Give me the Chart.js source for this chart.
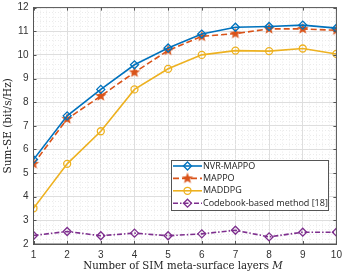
<!DOCTYPE html>
<html>
<head>
<meta charset="utf-8">
<script src="https://cdn.jsdelivr.net/npm/chart.js@4/dist/chart.umd.min.js"></script>
<style>
html, body { margin: 0; padding: 0; background: #fff; }
#wrap { width: 344px; height: 276px; }
</style>
</head>
<body>
<div id="wrap"><canvas id="chart"></canvas></div>
<script>
// data
const layers = [1, 2, 3, 4, 5, 6, 7, 8, 9, 10];
const nvrMappo = [5.57, 7.42, 8.54, 9.58, 10.29, 10.88, 11.17, 11.20, 11.26, 11.13];
const mappo = [5.39, 7.29, 8.26, 9.26, 10.19, 10.78, 10.90, 11.10, 11.10, 11.04];
const maddpg = [3.51, 5.39, 6.77, 8.54, 9.41, 10.00, 10.18, 10.16, 10.27, 10.04];
const codebook = [2.36, 2.53, 2.35, 2.46, 2.35, 2.43, 2.58, 2.30, 2.50, 2.50];
const names = ['NVR-MAPPO', 'MAPPO', 'MADDPG', 'Codebook-based method [18]'];
const xLabel = 'Number of SIM meta-surface layers ';
const yLabel = 'Sum-SE (bit/s/Hz)';

const isMajor = v => Math.abs(v - Math.round(v)) < 1e-6;
const pairs = ys => layers.map((x, i) => ({ x: x, y: ys[i] }));

function starImg(r, color) {
    const s = Math.ceil(r * 2 + 2);
    const c = document.createElement('canvas');
    c.width = s; c.height = s;
    const g = c.getContext('2d');
    g.beginPath();
    for (let i = 0; i < 10; i++) {
        const a = -Math.PI / 2 + i * Math.PI / 5;
        const rr = i % 2 ? r * 0.42 : r;
        g.lineTo(s / 2 + rr * Math.cos(a), s / 2 + rr * Math.sin(a));
    }
    g.closePath();
    g.fillStyle = color;
    g.fill();
    return c;
}

const BLUE = '#0072BD', RED = '#D95319', YELLOW = '#EDB120', PURPLE = '#7E2F8E';
const star = starImg(6, RED);

const datasets = [
    { label: names[0], data: pairs(nvrMappo), borderColor: BLUE, borderWidth: 1.6,
      pointStyle: 'rectRot', pointRadius: 4, pointBorderWidth: 1.3, pointBorderColor: BLUE, pointBackgroundColor: 'rgba(0,0,0,0)' },
    { label: names[1], data: pairs(mappo), borderColor: RED, borderWidth: 1.6, borderDash: [6, 3],
      pointStyle: star, pointRadius: 6, pointBorderColor: RED, pointBackgroundColor: RED },
    { label: names[2], data: pairs(maddpg), borderColor: YELLOW, borderWidth: 1.6,
      pointStyle: 'circle', pointRadius: 3.5, pointBorderWidth: 1.3, pointBorderColor: YELLOW, pointBackgroundColor: 'rgba(0,0,0,0)' },
    { label: names[3], data: pairs(codebook), borderColor: PURPLE, borderWidth: 1.6, borderDash: [5, 2, 1.5, 2],
      pointStyle: 'rectRot', pointRadius: 4, pointBorderWidth: 1.3, pointBorderColor: PURPLE, pointBackgroundColor: 'rgba(0,0,0,0)' }
];

const boxPlugin = {
    id: 'box',
    afterDatasetsDraw(chart) {
        const ctx = chart.ctx, a = chart.chartArea;
        const xs = chart.scales.x, ys = chart.scales.y;
        ctx.save();
        ctx.strokeStyle = '#555';
        ctx.lineWidth = 1;
        ctx.strokeRect(a.left, a.top, a.right - a.left, a.bottom - a.top);
        ctx.beginPath();
        xs.ticks.forEach(t => {
            if (!isMajor(t.value)) return;
            const px = Math.round(xs.getPixelForValue(t.value)) + 0.5;
            ctx.moveTo(px, a.bottom); ctx.lineTo(px, a.bottom - 3);
            ctx.moveTo(px, a.top); ctx.lineTo(px, a.top + 3);
        });
        ys.ticks.forEach(t => {
            if (!isMajor(t.value)) return;
            const py = Math.round(ys.getPixelForValue(t.value)) + 0.5;
            ctx.moveTo(a.left, py); ctx.lineTo(a.left + 3, py);
            ctx.moveTo(a.right, py); ctx.lineTo(a.right - 3, py);
        });
        ctx.stroke();

        // legend
        const lx = 171, ly = 160, lw = 157, lh = 50;
        ctx.fillStyle = '#fff';
        ctx.fillRect(lx, ly, lw, lh);
        ctx.strokeStyle = '#555';
        ctx.strokeRect(lx + 0.5, ly + 0.5, lw, lh);
        chart.data.datasets.forEach((d, i) => {
            const y = ly + 6 + i * 12.4;
            ctx.save();
            ctx.strokeStyle = d.borderColor;
            ctx.lineWidth = d.borderWidth;
            ctx.setLineDash(d.borderDash || []);
            ctx.beginPath();
            ctx.moveTo(lx + 2, y); ctx.lineTo(lx + 31, y);
            ctx.stroke();
            ctx.setLineDash([]);
            ctx.fillStyle = d.pointBackgroundColor;
            ctx.lineWidth = d.pointBorderWidth || 1;
            Chart.helpers.drawPoint(ctx, { pointStyle: d.pointStyle, radius: d.pointRadius, rotation: 0, borderWidth: d.pointBorderWidth || 1 }, lx + 16.5, y);
            ctx.restore();
            ctx.fillStyle = '#222';
            ctx.font = '9px "Open Sans"';
            ctx.textBaseline = 'middle';
            ctx.fillText(d.label, lx + 32, y);
        });

        // x title with italic M
        ctx.fillStyle = '#222';
        ctx.textBaseline = 'middle';
        ctx.font = '10.2px "DejaVu Serif"';
        const w1 = ctx.measureText(xLabel).width;
        ctx.font = 'italic 10.2px "DejaVu Serif"';
        const w2 = ctx.measureText('M').width;
        const cx = 183;
        const x0 = cx - (w1 + w2) / 2;
        ctx.font = '10.2px "DejaVu Serif"';
        ctx.fillText(xLabel, x0, 266);
        ctx.font = 'italic 10.2px "DejaVu Serif"';
        ctx.fillText('M', x0 + w1, 266);
        ctx.restore();
    }
};

const gridColor = ctx => (ctx.tick && isMajor(ctx.tick.value)) ? '#dedede' : '#ebebeb';
const gridDash = ctx => (ctx.tick && !isMajor(ctx.tick.value)) ? [1, 2] : [];

new Chart(document.getElementById('chart'), {
    type: 'line',
    data: { datasets: datasets },
    plugins: [boxPlugin],
    options: {
        responsive: true,
        maintainAspectRatio: false,
        animation: false,
        layout: { padding: { top: 5, right: 7, left: 0, bottom: 0 } },
        plugins: { legend: { display: false }, tooltip: { enabled: false } },
        scales: {
            x: {
                type: 'linear', min: 1, max: 10,
                afterFit: s => { s.height = 32; s.paddingRight = 0; s.paddingLeft = 0; },
                ticks: { stepSize: 0.2, autoSkip: false, maxRotation: 0, padding: 5,
                         color: '#333', font: { family: 'Liberation Sans', size: 10 },
                         callback: v => isMajor(v) ? String(Math.round(v)) : '' },
                grid: { color: gridColor, drawTicks: false, lineWidth: 1 },
                border: { color: '#555', dash: gridDash }
            },
            y: {
                type: 'linear', min: 2, max: 12,
                afterFit: s => { s.width = 33.5; s.paddingTop = 0; s.paddingBottom = 0; },
                ticks: { stepSize: 0.2, autoSkip: false, padding: 5,
                         color: '#333', font: { family: 'Liberation Sans', size: 10 },
                         callback: v => isMajor(v) ? String(Math.round(v)) : '' },
                grid: { color: gridColor, drawTicks: false, lineWidth: 1 },
                border: { color: '#555', dash: gridDash },
                title: { display: true, text: yLabel, color: '#222', padding: 2,
                         font: { family: 'DejaVu Serif', size: 10.5 } }
            }
        }
    }
});
</script>
</body>
</html>
